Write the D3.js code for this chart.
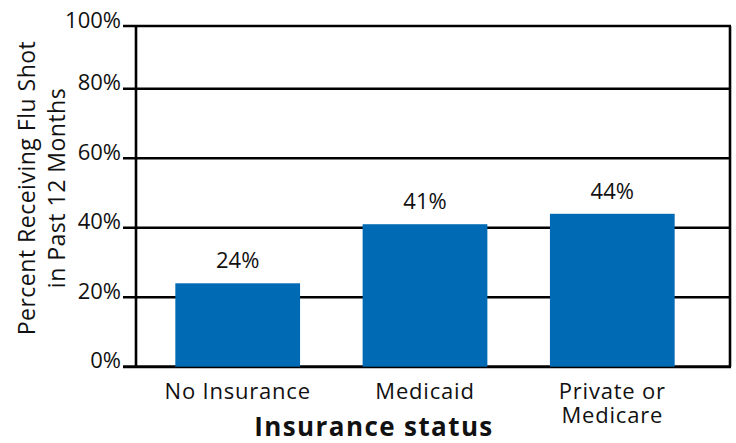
<!DOCTYPE html>
<html>
<head>
<meta charset="utf-8">
<script src="https://cdn.jsdelivr.net/npm/d3@7"></script>
<style>
  body { margin: 0; background: #fff; }
  svg { display: block; font-family: "Open Sans", Lato, sans-serif; }
</style>
</head>
<body>
<svg id="chart" width="736" height="443"></svg>
<script>
// data
const categories = ["No Insurance", "Medicaid", "Private or\nMedicare"];
const values = [24, 41, 44];
const tickValues = [0, 20, 40, 60, 80, 100];

const svg = d3.select("#chart");

// plot frame
const plotLeft = 136, plotRight = 731, plotTop = 26, plotBottom = 366.7;

// y scale: 100% sits a little above the frame top in the original
const y = d3.scaleLinear().domain([0, 100]).range([plotBottom, plotBottom - 347.5]);

const x = d3.scaleBand()
  .domain(categories)
  .range([128.5, 721.5])
  .paddingInner(0.334)
  .paddingOuter(0.25);

// gridlines + tick stubs
tickValues.forEach(t => {
  const yy = t === 100 ? plotTop : y(t);
  svg.append("line")
    .attr("x1", 123).attr("x2", plotRight)
    .attr("y1", yy).attr("y2", yy)
    .attr("stroke", "#000")
    .attr("stroke-width", t === 0 ? 3 : 2.4);
  svg.append("text")
    .attr("x", 121)
    .attr("y", yy + 1.5)
    .attr("text-anchor", "end")
    .attr("font-size", 22)
    .attr("fill", "#111")
    .text(t + "%");
});

// bars
svg.selectAll("rect.bar")
  .data(values)
  .enter()
  .append("rect")
  .attr("class", "bar")
  .attr("x", (d, i) => x(categories[i]))
  .attr("width", x.bandwidth())
  .attr("y", d => y(d))
  .attr("height", d => y(0) - y(d))
  .attr("fill", "#006ab4");

// value labels
svg.selectAll("text.val")
  .data(values)
  .enter()
  .append("text")
  .attr("class", "val")
  .attr("x", (d, i) => x(categories[i]) + x.bandwidth() / 2)
  .attr("y", d => y(d) - 15)
  .attr("text-anchor", "middle")
  .attr("font-size", 22)
  .attr("fill", "#111")
  .text(d => d + "%");

// frame lines (left axis + right border)
svg.append("line")
  .attr("x1", plotLeft).attr("x2", plotLeft)
  .attr("y1", plotTop).attr("y2", plotBottom)
  .attr("stroke", "#000").attr("stroke-width", 2.6);
svg.append("line")
  .attr("x1", plotRight - 1).attr("x2", plotRight - 1)
  .attr("y1", plotTop).attr("y2", plotBottom)
  .attr("stroke", "#000").attr("stroke-width", 2.6);

// category labels
categories.forEach(c => {
  const t = svg.append("text")
    .attr("x", x(c) + x.bandwidth() / 2)
    .attr("y", 399)
    .attr("text-anchor", "middle")
    .attr("font-size", 22)
    .attr("letter-spacing", 0.8)
    .attr("fill", "#111");
  c.split("\n").forEach((line, i) => {
    t.append("tspan")
      .attr("x", x(c) + x.bandwidth() / 2)
      .attr("dy", i === 0 ? 0 : 24)
      .text(line);
  });
});

// x title
svg.append("text")
  .attr("x", 374)
  .attr("y", 436)
  .attr("text-anchor", "middle")
  .attr("font-size", 26)
  .attr("font-weight", "bold")
  .attr("letter-spacing", 1.4)
  .attr("fill", "#111")
  .text("Insurance status");

// y title, two lines rotated
const yt = svg.append("text")
  .attr("transform", "translate(35,188) rotate(-90)")
  .attr("text-anchor", "middle")
  .attr("font-size", 23)
  .attr("letter-spacing", 0.5)
  .attr("fill", "#111");
yt.append("tspan").attr("x", 0).attr("dy", 0).text("Percent Receiving Flu Shot");
yt.append("tspan").attr("x", 0).attr("dy", 30).text("in Past 12 Months");
</script>
</body>
</html>
